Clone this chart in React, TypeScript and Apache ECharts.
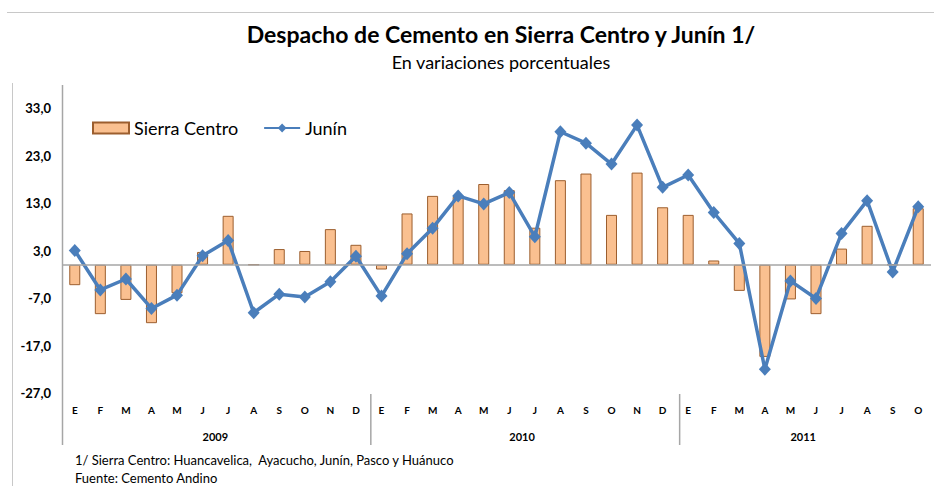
import React, { useEffect, useRef } from 'react';
import * as echarts from 'echarts';

const months = [
  'E', 'F', 'M', 'A', 'M', 'J', 'J', 'A', 'S', 'O', 'N', 'D',
  'E', 'F', 'M', 'A', 'M', 'J', 'J', 'A', 'S', 'O', 'N', 'D',
  'E', 'F', 'M', 'A', 'M', 'J', 'J', 'A', 'S', 'O',
];

const sierraCentro = [
  -4.3, -10.4, -7.4, -12.3, -6.0, 2.7, 10.3, 0, 3.3, 2.9, 7.5, 4.2,
  -1.0, 10.8, 14.5, 14.3, 17.0, 15.7, 7.8, 17.8, 19.2, 10.5, 19.4, 12.1,
  10.5, 0.9, -5.5, -19.4, -7.3, -10.4, 3.4, 8.2, 0, 11.9,
];

const junin = [
  3.0, -5.3, -3.0, -9.2, -6.4, 1.9, 5.1, -10.1, -6.2, -6.8, -3.6, 1.8,
  -6.6, 2.3, 7.7, 14.5, 12.8, 15.2, 5.9, 28.0, 25.6, 21.2, 29.4, 16.3,
  18.9, 11.0, 4.5, -22.0, -3.4, -7.1, 6.6, 13.5, -1.5, 12.2,
];

const years = ['2009', '2010', '2011'];
const yearCenters = [6, 18, 29];
const yearBreaks = [12, 24];

const Y_MIN = -27;
const Y_MAX = 33;
const Y_STEP = 10;

const FONT = 'Lato, "Open Sans", sans-serif';

export default function App() {
  const ref = useRef<HTMLDivElement>(null);

  useEffect(() => {
    if (!ref.current) return;
    const chart = echarts.init(ref.current, undefined, { renderer: 'svg' });

    const gridLeft = 62;
    const gridTop = 108;
    const gridHeight = 285;
    const gridWidth = 875;
    const catW = gridWidth / months.length;
    const gridBottomY = gridTop + gridHeight;

    const lineColor = '#a6a6a6';

    const graphics: any[] = [
      { type: 'line', shape: { x1: 7, y1: 12.5, x2: 934, y2: 12.5 }, style: { stroke: '#c8c8c8', lineWidth: 1 } },
      { type: 'line', shape: { x1: 12.5, y1: 83, x2: 12.5, y2: 486 }, style: { stroke: '#c8c8c8', lineWidth: 1 } },
      { type: 'line', shape: { x1: gridLeft + 0.5, y1: 85, x2: gridLeft + 0.5, y2: 445 }, style: { stroke: lineColor, lineWidth: 1.5 } },
      {
        type: 'text', x: 501, y: 34,
        style: { text: 'Despacho de Cemento en Sierra Centro y Junín 1/', font: `bold 23px ${FONT}`, fill: '#000', align: 'center', verticalAlign: 'middle' },
      },
      {
        type: 'text', x: 501, y: 62,
        style: { text: 'En variaciones porcentuales', font: `18px ${FONT}`, fill: '#000', align: 'center', verticalAlign: 'middle' },
      },
      {
        type: 'text', x: 75, y: 460,
        style: { text: '1/ Sierra Centro: Huancavelica,  Ayacucho, Junín, Pasco y Huánuco', font: `13px ${FONT}`, fill: '#000', align: 'left', verticalAlign: 'middle' },
      },
      {
        type: 'text', x: 75, y: 478,
        style: { text: 'Fuente: Cemento Andino', font: `13px ${FONT}`, fill: '#000', align: 'left', verticalAlign: 'middle' },
      },
    ];
    yearBreaks.forEach((b) => {
      const x = gridLeft + b * catW;
      graphics.push({
        type: 'line', shape: { x1: x, y1: gridBottomY + 1, x2: x, y2: 445 }, style: { stroke: lineColor, lineWidth: 1.5 },
      });
    });

    chart.setOption({
      animation: false,
      backgroundColor: '#ffffff',
      legend: {
        left: 87,
        top: 114,
        itemWidth: 36,
        itemHeight: 11,
        itemGap: 25,
        textStyle: { fontFamily: FONT, fontSize: 18, color: '#000' },
        data: [
          { name: 'Sierra Centro', icon: 'rect' },
          { name: 'Junín' },
        ],
      },
      grid: { left: gridLeft, top: gridTop, width: gridWidth, height: gridHeight, containLabel: false },
      xAxis: [
        {
          type: 'category',
          data: months,
          position: 'bottom',
          axisLine: { show: false, onZero: false },
          axisTick: { show: false },
          axisLabel: { interval: 0, margin: 12, fontFamily: FONT, fontSize: 10, fontWeight: 'bold', color: '#000' },
          splitLine: { show: false },
        },
        {
          type: 'value',
          min: 0,
          max: months.length,
          interval: 1,
          position: 'bottom',
          axisLine: { show: false, onZero: false },
          axisTick: { show: false },
          splitLine: { show: false },
          axisLabel: {
            margin: 38,
            fontFamily: FONT,
            fontSize: 11,
            fontWeight: 'bold',
            color: '#000',
            formatter: (v: number) => {
              const i = yearCenters.indexOf(v);
              return i >= 0 ? years[i] : '';
            },
          },
        },
      ],
      yAxis: {
        type: 'value',
        min: Y_MIN,
        max: Y_MAX,
        interval: Y_STEP,
        axisLine: { show: false },
        axisTick: { show: false },
        splitLine: { show: false },
        axisLabel: {
          margin: 11,
          fontFamily: FONT,
          fontSize: 13,
          fontWeight: 'bold',
          color: '#000',
          formatter: (v: number) => v.toFixed(1).replace('.', ','),
        },
      },
      series: [
        {
          name: 'Sierra Centro',
          type: 'bar',
          xAxisIndex: 0,
          data: sierraCentro,
          barWidth: 11,
          itemStyle: { color: '#FAC090', borderColor: '#9C5E2E', borderWidth: 1 },
          markLine: {
            silent: true,
            symbol: 'none',
            label: { show: false },
            lineStyle: { color: lineColor, width: 1.5, type: 'solid' },
            data: [{ yAxis: 0 }],
          },
          z: 2,
        },
        {
          name: 'Junín',
          type: 'line',
          xAxisIndex: 0,
          data: junin,
          symbol: 'diamond',
          symbolSize: [12, 13],
          lineStyle: { color: '#4A7EBB', width: 3.5 },
          itemStyle: { color: '#4A7EBB' },
          z: 3,
        },
      ],
      graphic: graphics,
    });

    return () => chart.dispose();
  }, []);

  return <div ref={ref} style={{ position: 'absolute', left: 0, top: 0, width: 934, height: 486 }} />;
}
